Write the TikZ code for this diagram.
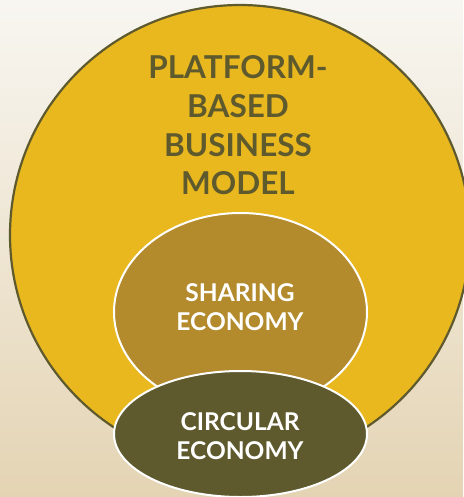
\documentclass[tikz,border=0pt]{standalone}
\usepackage{fontspec}
\setmainfont{Lato}
\usetikzlibrary{shapes.geometric}
\definecolor{bgtop}{HTML}{F8F6F1}
\definecolor{bgbot}{HTML}{E4D4B4}
\definecolor{goldfill}{HTML}{E9B81F}
\definecolor{sharefill}{HTML}{B38A2C}
\definecolor{olive}{HTML}{5E5A2D}
\tikzset{
  bigcircle/.style={circle, draw=olive, line width=2.2pt, fill=goldfill, minimum size=460pt, inner sep=0pt},
  innerellipse/.style={ellipse, draw=white, line width=2pt, minimum width=253pt, inner sep=0pt},
  outertext/.style={text=olive, font=\bfseries\fontsize{31.5}{38.7}\selectfont, align=center, inner sep=0pt},
  innertext/.style={text=white, font=\bfseries\fontsize{24.5}{29}\selectfont, align=center, inner sep=0pt}
}
\begin{document}
\begin{tikzpicture}[x=1pt, y=-1pt]
\useasboundingbox (0,0) rectangle (463,497);
\fill[top color=bgtop, bottom color=bgbot] (0,0) rectangle (463,497);
\node[bigcircle] (platform) at (240,235) {};
\node[innerellipse, fill=sharefill, minimum height=198pt] (sharing) at (240.5,312) {};
\node[innerellipse, fill=olive, minimum height=126pt] (circular) at (240.5,434) {};
\node[outertext] (platformtext) at (238,125.5) {PLATFORM-\\BASED\\BUSINESS\\MODEL};
\node[innertext] (sharingtext) at (240,307) {SHARING\\ECONOMY};
\node[innertext] (circulartext) at (240,436) {CIRCULAR\\ECONOMY};
\end{tikzpicture}
\end{document}
